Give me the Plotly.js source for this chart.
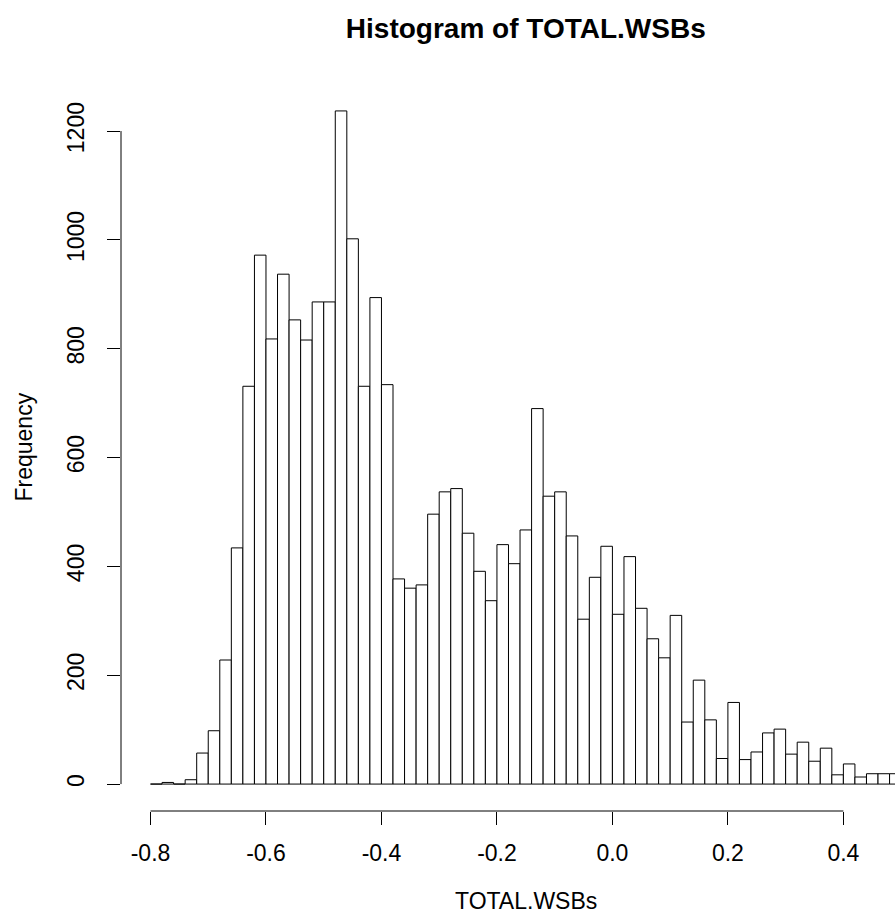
<!DOCTYPE html>
<html>
<head>
<meta charset="utf-8">
<script src="https://cdn.plot.ly/plotly-3.0.1.min.js"></script>
<style>html,body{margin:0;padding:0;background:#fff;}#chart{width:895px;height:922px;}</style>
</head>
<body>
<div id="chart"></div>
<script>
// Histogram breaks: start and width (bins of 0.02 from -0.8)
const breakStart = -0.8;
const binWidth = 0.02;
// Frequencies per bin
const counts = [
  0, 3, 0, 8, 57, 98, 228, 434, 731, 972,
  818, 937, 853, 816, 886, 886, 1237, 1002, 731, 894,
  734, 377, 360, 366, 496, 537, 543, 461, 391, 337,
  440, 405, 467, 690, 529, 537, 456, 303, 380, 437,
  312, 418, 323, 267, 232, 310, 114, 191, 118, 47,
  150, 45, 59, 94, 101, 55, 77, 42, 66, 17,
  37, 13, 19, 19, 19
];
const xTickVals = [-0.8, -0.6, -0.4, -0.2, 0.0, 0.2, 0.4];
const xTickText = ['-0.8', '-0.6', '-0.4', '-0.2', '0.0', '0.2', '0.4'];
const yTickVals = [0, 200, 400, 600, 800, 1000, 1200];
const yTickText = ['0', '200', '400', '600', '800', '1000', '1200'];

const centers = counts.map((_, i) => breakStart + binWidth * (i + 0.5));
const maxCount = Math.max(...counts);
const FONT = '"Liberation Sans", Arial, Helvetica, sans-serif';

const trace = {
  type: 'bar',
  x: centers,
  y: counts,
  width: binWidth,
  marker: { color: '#ffffff', line: { color: '#000000', width: 1 } },
  hoverinfo: 'x+y'
};

const layout = {
  width: 895,
  height: 922,
  margin: { l: 121, r: 0, t: 84, b: 111, pad: 0 },
  paper_bgcolor: '#ffffff',
  plot_bgcolor: '#ffffff',
  showlegend: false,
  bargap: 0,
  font: { family: FONT, size: 23, color: '#000000' },
  title: {
    text: 'Histogram of TOTAL.WSBs',
    font: { family: FONT, size: 28, weight: 'bold', color: '#000000' },
    xref: 'paper', x: 0.523, xanchor: 'center',
    yref: 'container', y: 1 - 28 / 922, yanchor: 'middle'
  },
  xaxis: {
    range: [-0.8511, 0.4894],
    showgrid: false, zeroline: false, showline: false,
    ticks: 'outside', ticklen: 13, tickwidth: 1, tickcolor: '#000000',
    tickmode: 'array', tickvals: xTickVals, ticktext: xTickText,
    ticklabelstandoff: 8,
    tickfont: { family: FONT, size: 23, color: '#000000' },
    fixedrange: true
  },
  yaxis: {
    range: [-0.04 * maxCount, 1.04 * maxCount],
    showgrid: false, zeroline: false, showline: false,
    ticks: 'outside', ticklen: 13, tickwidth: 1, tickcolor: '#000000',
    tickmode: 'array', tickvals: yTickVals, ticktext: yTickText,
    tickangle: -90,
    ticklabelstandoff: 14,
    tickfont: { family: FONT, size: 23, color: '#000000' },
    fixedrange: true
  },
  shapes: [
    { type: 'line', xref: 'x', yref: 'paper',
      x0: xTickVals[0], x1: xTickVals[xTickVals.length - 1], y0: 0, y1: 0,
      line: { color: '#000000', width: 1 } },
    { type: 'line', xref: 'paper', yref: 'y',
      x0: 0, x1: 0, y0: yTickVals[0], y1: yTickVals[yTickVals.length - 1],
      line: { color: '#000000', width: 1 } }
  ],
  annotations: [
    { text: 'TOTAL.WSBs', xref: 'paper', yref: 'paper', x: 0.523, y: -0.1238,
      xanchor: 'center', yanchor: 'middle', showarrow: false,
      font: { family: FONT, size: 23, color: '#000000' } },
    { text: 'Frequency', xref: 'paper', yref: 'paper', x: -0.1266, y: 0.5,
      xanchor: 'center', yanchor: 'middle', showarrow: false, textangle: -90,
      font: { family: FONT, size: 23, color: '#000000' } }
  ]
};

Plotly.newPlot('chart', [trace], layout, { displayModeBar: false, staticPlot: true });
</script>
</body>
</html>
